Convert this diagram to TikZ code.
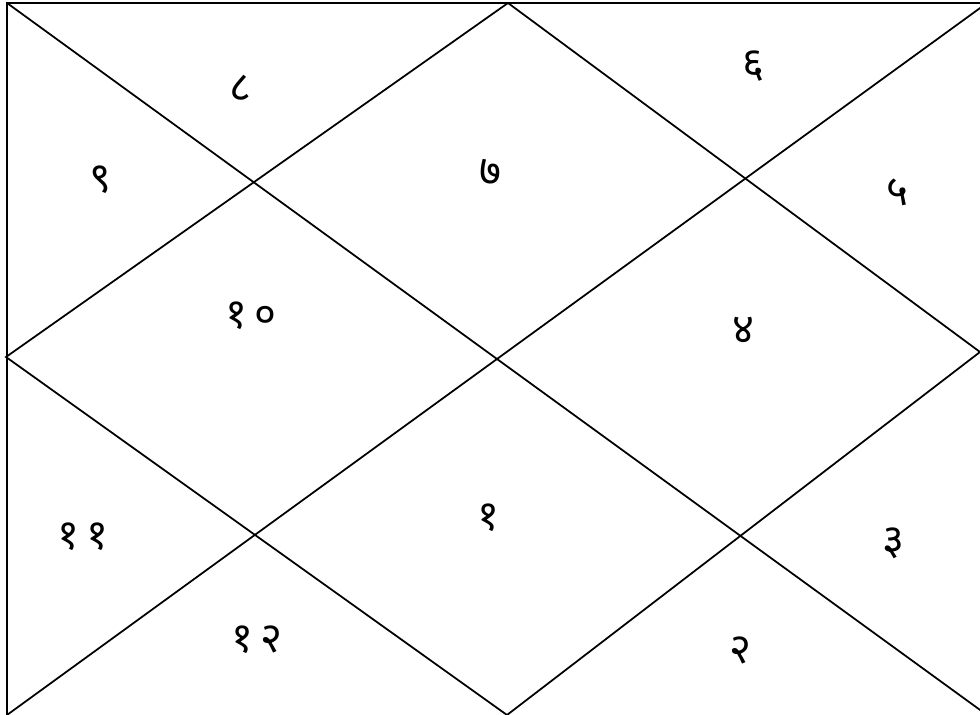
\documentclass[tikz,border=0pt]{standalone}
\usepackage{fontspec}
\newfontfamily\devfont[Script=Devanagari]{Noto Sans}
\usetikzlibrary{positioning}

\begin{document}
\begin{tikzpicture}[x=0.02cm, y=-0.02cm, line width=1pt,
  house/.style={font=\devfont\fontsize{24}{28}\selectfont, inner sep=0pt}]
  \useasboundingbox (0,0) rectangle (980,715);
  % frame corners and diamond tips
  \coordinate (tl) at (7,3);
  \coordinate (tr) at (987,3);
  \coordinate (bl) at (7,715);
  \coordinate (br) at (987,715);
  \coordinate (top) at (508,3);
  \coordinate (right) at (980,352);
  \coordinate (bottom) at (507,715);
  \coordinate (left) at (6,357);
  \draw[line width=1.4pt] (bl) |- (tr);
  \draw (tl) -- (br);
  \draw (bl) -- (tr);
  \draw (top) -- (right) -- (bottom) -- (left) -- cycle;
  % house numbers
  \node[house] (h1) at (488,518) {१};
  \node[house] (h2) at (740,650) {२};
  \node[house] (h3) at (893,543) {३};
  \node[house] (h4) at (743,330) {४};
  \node[house] (h5) at (897,192) {५};
  \node[house] (h6) at (753,66) {६};
  \node[house] (h7) at (490,172) {७};
  \node[house] (h8) at (240,88) {८};
  \node[house] (h9) at (100,180) {९};
  \node[house] (h10) at (251,316) {१\,०};
  \node[house] (h11) at (83,537) {१\,१};
  \node[house] (h12) at (257,640) {१\,२};
\end{tikzpicture}
\end{document}
